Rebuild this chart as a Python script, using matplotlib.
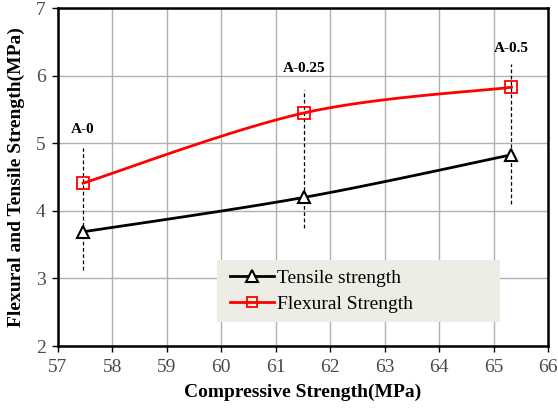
import numpy as np
import matplotlib
matplotlib.use("Agg")
import matplotlib.pyplot as plt
from matplotlib.lines import Line2D
from matplotlib.patches import Rectangle

compressive = [57.46, 61.52, 65.33]
tensile = [3.69, 4.20, 4.83]
flexural = [4.41, 5.45, 5.83]
labels = ["A-0", "A-0.25", "A-0.5"]
err_low = [3.12, 3.75, 4.10]
err_high = [4.93, 5.79, 6.17]
label_y = [5.2, 6.1, 6.4]

plt.rcParams['font.family'] = ['Liberation Serif', 'DejaVu Serif']

def smooth(x, y, n=40):
    x = np.asarray(x, float); y = np.asarray(y, float)
    px = np.concatenate([[x[0]], x, [x[-1]]])
    py = np.concatenate([[y[0]], y, [y[-1]]])
    xs, ys = [], []
    for i in range(len(x) - 1):
        p0 = np.array([px[i], py[i]]); p1 = np.array([px[i+1], py[i+1]])
        p2 = np.array([px[i+2], py[i+2]]); p3 = np.array([px[i+3], py[i+3]])
        c1 = p1 + (p2 - p0) / 6.0
        c2 = p2 - (p3 - p1) / 6.0
        t = np.linspace(0, 1, n)[:, None]
        b = (1-t)**3*p1 + 3*(1-t)**2*t*c1 + 3*(1-t)*t**2*c2 + t**3*p2
        xs.extend(b[:, 0]); ys.extend(b[:, 1])
    return xs, ys

fig = plt.figure(figsize=(5.58, 4.09), dpi=100)
ax = fig.add_axes([0.104, 0.154, 0.878, 0.826])

for xv, lo, hi in zip(compressive, err_low, err_high):
    ax.plot([xv, xv], [lo, hi], color='black', lw=0.9, ls=(0, (3, 2)), zorder=2)

sx, sy = smooth(compressive, tensile)
ax.plot(sx, sy, color='black', lw=2, zorder=3)
ax.plot(compressive, tensile, ls='none', marker='^', ms=9, mfc='white', mec='black', mew=1.5, zorder=4)
sx, sy = smooth(compressive, flexural)
ax.plot(sx, sy, color='#ff0000', lw=2, zorder=3)
ax.plot(compressive, flexural, ls='none', marker='s', ms=8, mfc='none', mec='#ff0000', mew=1.3, zorder=4)

for xv, yv, t in zip(compressive, label_y, labels):
    ax.text(xv, yv, t, ha='center', va='center', fontsize=11, fontweight='bold')

# legend background box
ax.add_patch(Rectangle((0.324, 0.071), 0.578, 0.183, transform=ax.transAxes,
                       facecolor='#eeede5', edgecolor='none', zorder=5))

h1 = Line2D([], [], color='black', lw=2, marker='^', ms=8, mfc='white', mec='black', mew=1.5)
h2 = Line2D([], [], color='#ff0000', lw=2, marker='s', ms=7, mfc='none', mec='#ff0000', mew=1.3)
leg = ax.legend([h1, h2], ['Tensile strength', 'Flexural Strength'], loc='center left',
                bbox_to_anchor=(0.35, 0.162), frameon=False,
                fontsize=14, handlelength=2.3,
                handletextpad=0.15, borderpad=0.0, labelspacing=0.45, borderaxespad=0)
leg.set_zorder(6)

ax.set_xlim(57, 66)
ax.set_ylim(2, 7)
ax.set_xticks(range(57, 67))
ax.set_yticks(range(2, 8))
ax.grid(True, color='#b0b0b0', lw=1)
ax.set_axisbelow(True)
for s in ax.spines.values():
    s.set_linewidth(1.8)
    s.set_color('black')
ax.tick_params(direction='out', length=4, width=1, labelsize=14, colors='black', labelcolor='#4a4a4a', pad=5)
ax.set_xlabel('Compressive Strength(MPa)', fontsize=14, fontweight='bold', labelpad=6)
ax.set_ylabel('Flexural and Tensile Strength(MPa)', fontsize=14, fontweight='bold', labelpad=8)

fig.savefig('out.png', dpi=100)
